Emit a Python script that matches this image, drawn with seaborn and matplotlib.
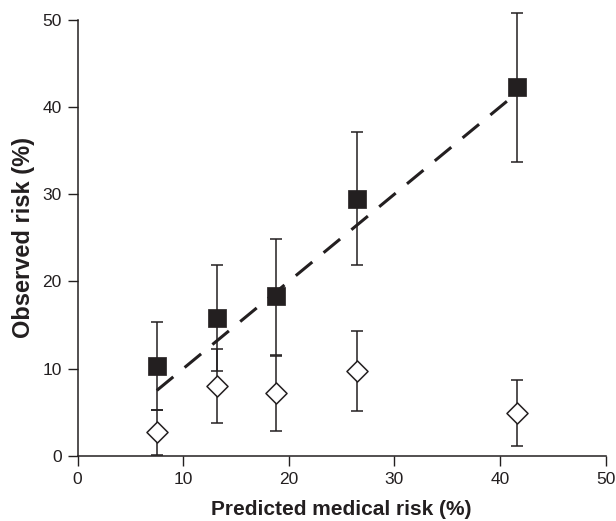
import matplotlib
matplotlib.use("Agg")
import matplotlib.pyplot as plt
import seaborn as sns
import pandas as pd
import numpy as np

# Data
predicted = [7.5, 13.2, 18.8, 26.5, 41.6]
obs_filled = [10.3, 15.8, 18.3, 29.5, 42.3]
filled_low = [5.3, 9.7, 11.6, 21.9, 33.7]
filled_high = [15.3, 21.9, 24.9, 37.1, 50.8]
obs_open = [2.7, 8.0, 7.2, 9.7, 4.9]
open_low = [0.1, 3.8, 2.9, 5.2, 1.1]
open_high = [5.3, 12.2, 11.5, 14.3, 8.7]
x_ticks = [0, 10, 20, 30, 40, 50]
y_ticks = [0, 10, 20, 30, 40, 50]

INK = "#231f20"

sns.set_theme(style="ticks")
plt.rcParams['font.family'] = ['Liberation Sans', 'DejaVu Sans']

fig = plt.figure(figsize=(6.16, 5.21), dpi=100)
ax = fig.add_axes([0.126, 0.125, 0.857, 0.837])

df = pd.DataFrame({"pred": predicted, "filled": obs_filled, "open": obs_open})

# identity line (predicted = observed)
line_df = pd.DataFrame({"x": [predicted[0], predicted[-1]], "y": [predicted[0], predicted[-1]]})
sns.lineplot(data=line_df, x="x", y="y", ax=ax, color=INK, lw=2.2, zorder=2)
ax.lines[-1].set_dashes([7, 4.8])
ax.lines[-1].set_dash_capstyle("butt")

# error bars
fe = np.array([np.array(obs_filled) - np.array(filled_low), np.array(filled_high) - np.array(obs_filled)])
oe = np.array([np.array(obs_open) - np.array(open_low), np.array(open_high) - np.array(obs_open)])
for yv, err in [(obs_filled, fe), (obs_open, oe)]:
    cont = ax.errorbar(predicted, yv, yerr=err, fmt="none", ecolor=INK, elinewidth=1.1,
                       capsize=4.5, capthick=1.1, zorder=3)
    for art in cont.lines[1]:
        art.set_clip_on(False)
    for art in cont.lines[2]:
        art.set_clip_on(False)

sns.scatterplot(data=df, x="pred", y="filled", ax=ax, marker="s", s=180,
                color=INK, edgecolor=INK, linewidth=0.5, zorder=4)
sns.scatterplot(data=df, x="pred", y="open", ax=ax, marker="D", s=115,
                facecolor="white", edgecolor=INK, linewidth=1.1, zorder=4)

ax.set_xlim(0, 50)
ax.set_ylim(0, 50)
ax.set_xticks(x_ticks)
ax.set_yticks(y_ticks)
ax.tick_params(direction="out", length=7.5, width=1, colors=INK, labelsize=12.5,
               labelcolor=INK, pad=4)
for s in ["top", "right"]:
    ax.spines[s].set_visible(False)
for s in ["left", "bottom"]:
    ax.spines[s].set_linewidth(1.1)
    ax.spines[s].set_color(INK)

ax.set_xlabel("Predicted medical risk (%)", fontsize=15, fontweight="bold", color=INK)
ax.set_ylabel("Observed risk (%)", fontsize=17, fontweight="bold", color=INK)
ax.xaxis.set_label_coords(0.5, -0.101)
ax.yaxis.set_label_coords(-0.081, 0.5)

fig.savefig("out.png", dpi=100)
